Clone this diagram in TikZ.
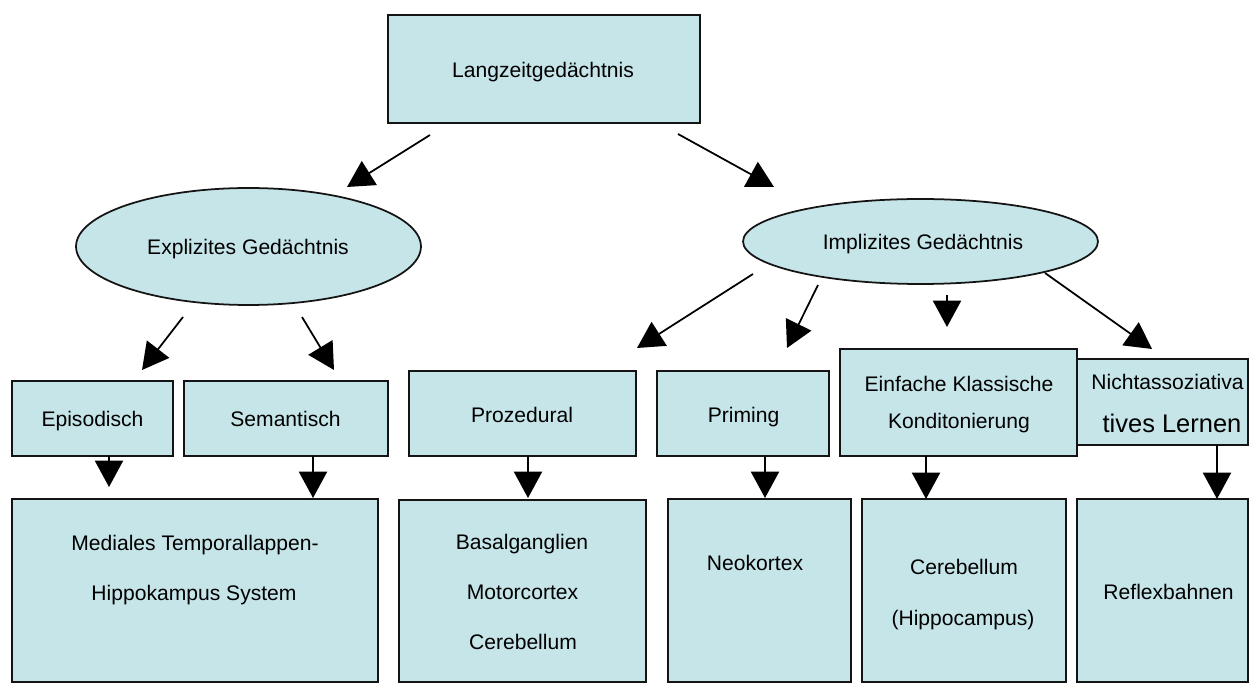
\documentclass[tikz,border=0pt]{standalone}
\usepackage{fontspec}
\setmainfont{Liberation Sans}
\usetikzlibrary{arrows.meta,shapes.geometric,fit}
\definecolor{boxfill}{RGB}{198,229,232}
\definecolor{edge}{RGB}{20,20,20}
\begin{document}
\begin{tikzpicture}[x=0.02cm,y=-0.02cm,
  box/.style={draw=edge, line width=1.1pt, fill=boxfill, inner sep=0pt, outer sep=0pt},
  ell/.style={ellipse, draw=edge, line width=1pt, fill=boxfill, inner sep=0pt},
  txt/.style={inner sep=0pt, anchor=base, font=\fontsize{12}{14}\selectfont},
  bigtxt/.style={txt, font=\fontsize{14.5}{17}\selectfont},
  arr/.style={draw=black, line width=1pt, -{Triangle[length=15pt,width=16pt]}}]
\useasboundingbox (0,0) rectangle (1250,685);

% shapes
\node[box, fit={(388,15) (700,123)}] (ltm) {};
\node[ell, minimum width=6.9cm, minimum height=2.34cm] (expl) at (248.5,246.5) {};
\node[ell, minimum width=7.1cm, minimum height=1.7cm] (impl) at (920.5,241.5) {};

\node[box, fit={(12,381) (173,456)}] (epi) {};
\node[box, fit={(184,381) (388,456)}] (sem) {};
\node[box, fit={(409,371) (636,456)}] (proz) {};
\node[box, fit={(657,371) (829,456)}] (prim) {};
\node[box, fit={(840,349) (1077,456)}] (einf) {};
\node[box, fit={(1077,359) (1248,445)}] (nicht) {};

\node[box, fit={(12,499) (378,682)}] (med) {};
\node[box, fit={(399,500) (646,682)}] (bas) {};
\node[box, fit={(668,499) (851,682)}] (neo) {};
\node[box, fit={(862,499) (1066,682)}] (cer) {};
\node[box, fit={(1077,499) (1248,682)}] (ref) {};

% texts (placed on their baselines)
\node[txt] (ltmt) at (543,78) {Langzeitgedächtnis};
\node[txt] (explt) at (248,255) {Explizites Gedächtnis};
\node[txt] (implt) at (923,250) {Implizites Gedächtnis};
\node[txt] (epit) at (92.5,427) {Episodisch};
\node[txt] (semt) at (285.5,427) {Semantisch};
\node[txt] (prozt) at (522,422) {Prozedural};
\node[txt] (primt) at (743.5,422) {Priming};
\node[txt] (einft1) at (959,392) {Einfache Klassische};
\node[txt] (einft2) at (959,429) {Konditonierung};
\node[txt] (nichtt1) at (1167.5,390) {Nichtassoziativa};
\node[bigtxt] (nichtt2) at (1172,433) {tives Lernen};
\node[txt] (medt1) at (195,550) {Mediales Temporallappen-};
\node[txt] (medt2) at (194,600) {Hippokampus System};
\node[txt] (bast1) at (522,549) {Basalganglien};
\node[txt] (bast2) at (522.5,599) {Motorcortex};
\node[txt] (bast3) at (523,649) {Cerebellum};
\node[txt] (neot) at (755,570) {Neokortex};
\node[txt] (cert1) at (964,574) {Cerebellum};
\node[txt] (cert2) at (963,625) {(Hippocampus)};
\node[txt] (reft) at (1168.5,599) {Reflexbahnen};

% connector end points
\coordinate (s1) at (430,135); \coordinate (e1) at (347,187);
\coordinate (s2) at (678,134); \coordinate (e2) at (774,187);
\coordinate (s3) at (183,317); \coordinate (e3) at (142,370);
\coordinate (s4) at (302,317); \coordinate (e4) at (334,370);
\coordinate (s5) at (753,274); \coordinate (e5) at (637,348);
\coordinate (s6) at (818,285); \coordinate (e6) at (787,348);
\coordinate (s7) at (947,295); \coordinate (e7) at (947,327);
\coordinate (s8) at (1045,273); \coordinate (e8) at (1152,349);
\coordinate (t1) at (109,456); \coordinate (f1) at (109,487);
\coordinate (t2) at (313,456); \coordinate (f2) at (313,498);
\coordinate (t3) at (528,457); \coordinate (f3) at (528,498);
\coordinate (t4) at (765,457); \coordinate (f4) at (765,498);
\coordinate (t5) at (926,456); \coordinate (f5) at (926,499);
\coordinate (t6) at (1217,445); \coordinate (f6) at (1217,499);

\foreach \i in {1,...,8} { \draw[arr] (s\i) -- (e\i); }
\foreach \i in {1,...,6} { \draw[arr] (t\i) -- (f\i); }
\end{tikzpicture}
\end{document}
